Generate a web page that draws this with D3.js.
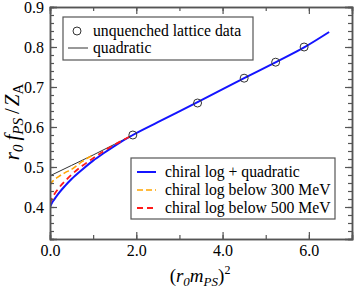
<!DOCTYPE html>
<html><head><meta charset="utf-8">
<script src="https://cdn.jsdelivr.net/npm/d3@7"></script>
<style>body{margin:0;background:#fff}svg{display:block}svg text{font-family:'Liberation Serif','Times New Roman',Times,'DejaVu Serif',serif !important;fill:#000}</style>
</head><body><svg id="c" width="354" height="289"></svg>
<script>
const dataX = [1.92, 3.42, 4.50, 5.23, 5.89];
const dataY = [0.580, 0.660, 0.722, 0.762, 0.800];
const blueX = [0, 0.05, 0.1, 0.2, 0.35, 0.5, 0.75, 1.0, 1.25, 1.5, 1.92, 2.5, 3.42, 4.5, 5.25, 5.89, 6.47];
const blueY = [0.400, 0.411, 0.419, 0.434, 0.453, 0.470, 0.494, 0.516, 0.535, 0.553, 0.580, 0.612, 0.662, 0.722, 0.763, 0.799, 0.8375];
const redX = [0, 0.05, 0.1, 0.2, 0.35, 0.5, 0.75, 1.0, 1.25, 1.5, 1.92];
const redY = [0.408, 0.423, 0.432, 0.447, 0.465, 0.481, 0.503, 0.522, 0.540, 0.556, 0.580];
const orangeX = [0, 0.05, 0.1, 0.2, 0.35, 0.5, 0.75, 1.0];
const orangeY = [0.455, 0.463, 0.468, 0.476, 0.486, 0.494, 0.514, 0.530];
const quadX = [0, 0.5, 1.0, 1.5, 1.92];
const quadY = [0.478, 0.504, 0.530, 0.557, 0.580];
const xTicks = [0, 2, 4, 6];
const xTickLabels = ["0.0", "2.0", "4.0", "6.0"];
const yTicks = [0.4, 0.5, 0.6, 0.7, 0.8, 0.9];
const yTickLabels = ["0.4", "0.5", "0.6", "0.7", "0.8", "0.9"];
const legend1 = ["unquenched lattice data", "quadratic"];
const legend2 = ["chiral log + quadratic", "chiral log below 300 MeV", "chiral log below 500 MeV"];

const FONT = "'Liberation Serif', 'Times New Roman', Times, serif";
const svg = d3.select("#c").attr("font-family", FONT);
const L = 50, R = 352, T = 7, B = 239;
const x = d3.scaleLinear().domain([0, 7]).range([L, R]);
const y = d3.scaleLinear().domain([0.32, 0.9]).range([B, T]);
const axisCol = "#555";

svg.append("clipPath").attr("id", "clip").append("rect").attr("x", L).attr("y", T).attr("width", R - L).attr("height", B - T);
const plot = svg.append("g").attr("clip-path", "url(#clip)");

const line = d3.line().x(d => x(d[0])).y(d => y(d[1])).curve(d3.curveMonotoneX);
const zip = (a, b) => a.map((v, i) => [v, b[i]]);

plot.append("path").datum(zip(quadX, quadY)).attr("d", line).attr("fill", "none").attr("stroke", "#333").attr("stroke-width", 1);
plot.append("path").datum(zip(orangeX, orangeY)).attr("d", line).attr("fill", "none").attr("stroke", "#ffa500").attr("stroke-width", 1.6).attr("stroke-dasharray", "6,3");
plot.append("path").datum(zip(blueX, blueY)).attr("d", line).attr("fill", "none").attr("stroke", "#1414ff").attr("stroke-width", 2);
plot.append("path").datum(zip(redX, redY)).attr("d", line).attr("fill", "none").attr("stroke", "#ff1a1a").attr("stroke-width", 1.8).attr("stroke-dasharray", "6,4");

plot.selectAll("circle.d").data(zip(dataX, dataY)).join("circle").attr("class", "d")
  .attr("cx", d => x(d[0])).attr("cy", d => y(d[1])).attr("r", 4)
  .attr("fill", "none").attr("stroke", "#333").attr("stroke-width", 1);

const xMinor = d3.range(0, 7.01, 1);
const yMinor = d3.range(0.32, 0.901, 0.02);
function ticksG(axisGen, tr) { return svg.append("g").attr("transform", tr).call(axisGen); }
const ax = [];
ax.push(ticksG(d3.axisBottom(x).tickValues(xMinor).tickSize(-4).tickFormat(""), `translate(0,${B})`));
ax.push(ticksG(d3.axisBottom(x).tickValues(xTicks).tickSize(-7).tickFormat((d, i) => xTickLabels[i]).tickPadding(6), `translate(0,${B})`));
ax.push(ticksG(d3.axisTop(x).tickValues(xMinor).tickSize(-4).tickFormat(""), `translate(0,${T})`));
ax.push(ticksG(d3.axisTop(x).tickValues(xTicks).tickSize(-7).tickFormat(""), `translate(0,${T})`));
ax.push(ticksG(d3.axisLeft(y).tickValues(yMinor).tickSize(-4).tickFormat(""), `translate(${L},0)`));
ax.push(ticksG(d3.axisLeft(y).tickValues(yTicks).tickSize(-7).tickFormat((d, i) => yTickLabels[i]).tickPadding(6), `translate(${L},0)`));
ax.push(ticksG(d3.axisRight(y).tickValues(yMinor).tickSize(-4).tickFormat(""), `translate(${R},0)`));
ax.push(ticksG(d3.axisRight(y).tickValues(yTicks).tickSize(-7).tickFormat(""), `translate(${R},0)`));
ax.forEach(g => {
  g.attr("font-family", FONT);
  g.select(".domain").attr("stroke", axisCol).attr("stroke-width", 1.5);
  g.selectAll(".tick line").attr("stroke", axisCol).attr("stroke-width", 1.2);
  g.selectAll(".tick text").attr("font-size", 16).attr("fill", "#000");
});

const xt = svg.append("text").attr("x", 200).attr("y", 282).attr("text-anchor", "middle").attr("font-size", 19);
xt.append("tspan").text("(");
xt.append("tspan").attr("font-style", "italic").text("r");
xt.append("tspan").attr("font-style", "italic").attr("font-size", 13).attr("dy", 4).text("0");
xt.append("tspan").attr("font-style", "italic").attr("dy", -4).text("m");
xt.append("tspan").attr("font-style", "italic").attr("font-size", 13).attr("dy", 4).text("PS");
xt.append("tspan").attr("dy", -4).text(")");
xt.append("tspan").attr("font-size", 12).attr("dy", -8).text("2");

const yt = svg.append("text").attr("transform", "translate(19,122) rotate(-90)").attr("text-anchor", "middle").attr("font-size", 21);
yt.append("tspan").attr("font-style", "italic").text("r");
yt.append("tspan").attr("font-style", "italic").attr("font-size", 15).attr("dy", 4).text("0");
yt.append("tspan").attr("font-style", "italic").attr("dy", -4).attr("dx", 4).text("f");
yt.append("tspan").attr("font-style", "italic").attr("font-size", 15).attr("dy", 4).text("PS");
yt.append("tspan").attr("dy", -4).attr("dx", 4).text("/");
yt.append("tspan").attr("font-style", "italic").attr("dx", 2).text("Z");
yt.append("tspan").attr("font-size", 15).attr("dy", 4).text("A");

const lg1 = svg.append("g");
lg1.append("rect").attr("x", 63).attr("y", 17).attr("width", 190).attr("height", 43).attr("fill", "#fff").attr("stroke", axisCol).attr("stroke-width", 1.2);
lg1.append("circle").attr("cx", 77).attr("cy", 31).attr("r", 4).attr("fill", "none").attr("stroke", "#333");
lg1.append("line").attr("x1", 68).attr("x2", 88).attr("y1", 48).attr("y2", 48).attr("stroke", "#333");
legend1.forEach((t, i) => lg1.append("text").attr("x", 93).attr("y", 36 + i * 17).attr("font-size", 15.7).text(t));

const lg2 = svg.append("g");
lg2.append("rect").attr("x", 131).attr("y", 158).attr("width", 204).attr("height", 61).attr("fill", "#fff").attr("stroke", axisCol).attr("stroke-width", 1.2);
const l2styles = [{c: "#1414ff", d: null, w: 2}, {c: "#ffa500", d: "6,3", w: 1.6}, {c: "#ff1a1a", d: "6,4", w: 1.8}];
legend2.forEach((t, i) => {
  const yy = 172 + i * 18;
  const ln = lg2.append("line").attr("x1", 137).attr("x2", 156).attr("y1", yy).attr("y2", yy).attr("stroke", l2styles[i].c).attr("stroke-width", l2styles[i].w);
  if (l2styles[i].d) ln.attr("stroke-dasharray", l2styles[i].d);
  lg2.append("text").attr("x", 165).attr("y", yy + 5).attr("font-size", 15.7).text(t);
});
</script></body></html>
